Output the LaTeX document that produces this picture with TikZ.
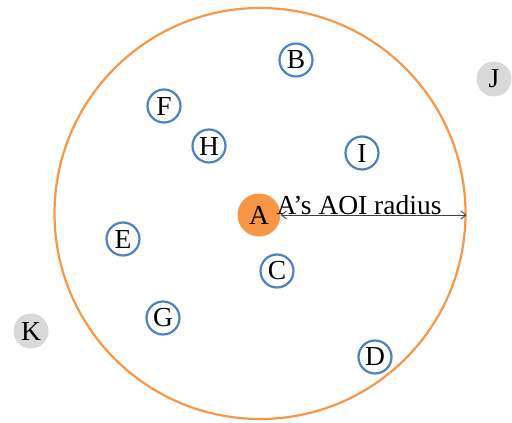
\documentclass[tikz,border=0pt]{standalone}
\usepackage{xcolor}
\usepackage{fontspec}
\setmainfont{Liberation Serif}
\usetikzlibrary{arrows.meta, positioning}

\definecolor{aoiorange}{HTML}{F79646}
\definecolor{peerblue}{HTML}{4F81BD}
\definecolor{farGray}{HTML}{D9D9D9}

\begin{document}
\begin{tikzpicture}[
    x=1pt, y=-1pt,
    every node/.style={font=\fontsize{27.5}{30}\selectfont},
    peer/.style={circle, draw=peerblue, line width=2.2pt, fill=white, minimum size=33pt, inner sep=0pt},
    outside/.style={circle, fill=farGray, minimum size=35pt, inner sep=0pt},
    avatar/.style={circle, fill=aoiorange, minimum size=43pt, inner sep=0pt},
    arrow/.style={{Straight Barb[length=5pt, width=8pt]}-{Straight Barb[length=5pt, width=8pt]}, black!75, line width=0.9pt}
]
\useasboundingbox (0,0) rectangle (512,423);

% area of interest
\node (aoi) [circle, draw=aoiorange, line width=2.2pt, minimum size=411pt, inner sep=0pt] at (260,213.5) {};

\node (A) [avatar] at (259,215) {A};
\node (B) [peer] at (296,60) {B};
\node (C) [peer] at (277,271) {C};
\node (D) [peer] at (375,357) {D};
\node (E) [peer] at (123,239) {E};
\node (F) [peer] at (164,106) {F};
\node (G) [peer] at (163,318) {G};
\node (H) [peer] at (209,146) {H};
\node (I) [peer] at (362,153) {I};
\node (J) [outside] at (494,79) {J};
\node (K) [outside] at (31,331) {K};

\coordinate (rim) at (A.east -| aoi.east);
\draw [arrow] (A.east) -- (rim);
\node (radius) [anchor=base, inner sep=0pt] at (359,214) {A’s AOI radius};
\end{tikzpicture}
\end{document}
